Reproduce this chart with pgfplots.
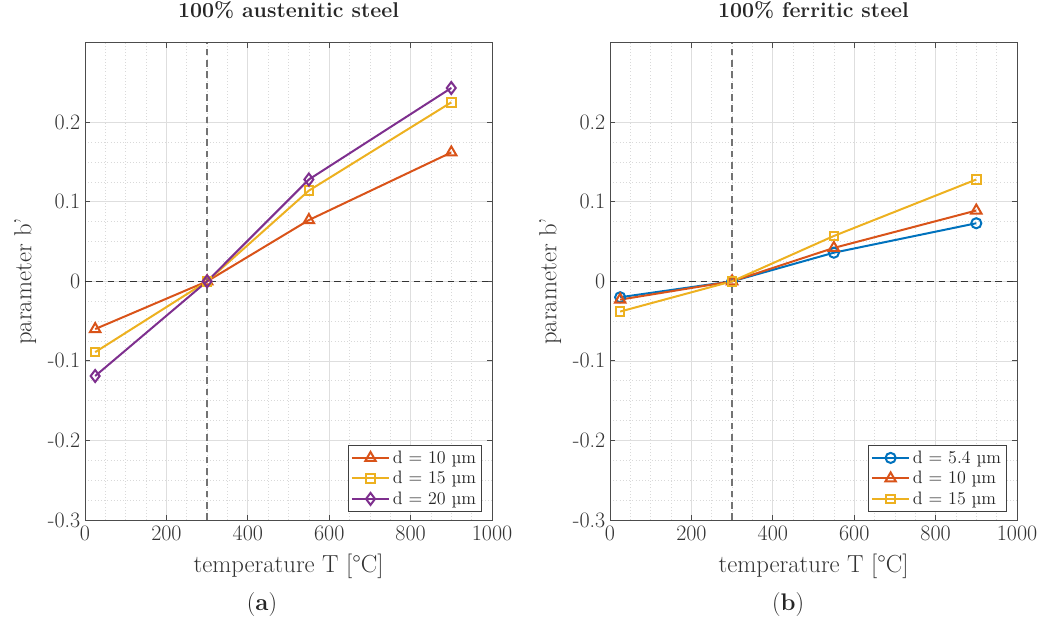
\documentclass[border=0pt]{standalone}
\usepackage{pgfplots}
\pgfplotsset{compat=1.18}
\definecolor{mblue}{rgb}{0,0.447,0.741}
\definecolor{morange}{rgb}{0.85,0.325,0.098}
\definecolor{myellow}{rgb}{0.929,0.694,0.125}
\definecolor{mpurple}{rgb}{0.494,0.184,0.556}
\begin{document}
\begin{tikzpicture}[x=1pt,y=1pt]
\path[use as bounding box] (0,0) rectangle (790.5,468);
\pgfplotsset{
  myaxis/.style={
    scale only axis, width=305.25pt, height=358pt,
    xmin=0, xmax=1000, ymin=-0.3, ymax=0.3,
    xtick={0,200,400,600,800,1000},
    xticklabels={0,200,400,600,800,1000},
    ytick={-0.3,-0.2,-0.1,0,0.1,0.2},
    yticklabels={-0.3,-0.2,-0.1,0,0.1,0.2},
    minor x tick num=3, minor y tick num=3,
    grid=both,
    major grid style={draw=black!13, line width=0.5pt},
    minor grid style={draw=black!15, dotted, line width=0.5pt},
    axis line style={draw=black!70, line width=0.6pt},
    tick align=inside, major tick length=4pt, minor tick length=0pt,
    tick style={draw=black!70, line width=0.6pt},
    ticklabel style={font=\fontsize{16.5}{16.5}\selectfont, text=black!80},
    xticklabel style={yshift=-1pt},
    every axis x label/.style={at={(axis description cs:0.5,-0.098)}, anchor=center, font=\fontsize{18.5}{18.5}\selectfont, text=black!80},
    every axis y label/.style={at={(axis description cs:-0.147,0.5)}, rotate=90, anchor=center, font=\fontsize{18.5}{18.5}\selectfont, text=black!80},
    xlabel={temperature T [°C]},
    ylabel={parameter b'},
    title style={at={(axis description cs:0.5,1.052)}, anchor=center, font=\bfseries\fontsize{16}{16}\selectfont, text=black!85},
    legend style={at={(axis description cs:0.975,0.017)}, anchor=south east, draw=black!75, fill=white, line width=0.6pt,
      font=\fontsize{13.5}{15}\selectfont, text=black!85, row sep=0.5pt, inner sep=2pt},
    legend cell align=left,
    legend image code/.code={\draw[mark repeat=2, mark phase=2] plot coordinates {(0pt,0pt) (14pt,0pt) (28pt,0pt)};},
    every axis plot/.append style={line width=1.5pt},
  },
  ref/.style={forget plot, line width=0.8pt, dash pattern=on 5pt off 3.5pt},
}
\begin{axis}[myaxis, at={(63.75pt,78pt)}, anchor=south west, title={100\% austenitic steel}]
\addplot[ref, draw=black!55, line width=1pt] coordinates {(300,-0.3) (300,0.3)};
\addplot[ref, draw=black!80] coordinates {(0,0) (1000,0)};
\addplot[morange, mark=triangle, mark size=4.5pt, mark options={solid, fill=white}] coordinates {(25,-0.06) (300,0) (550,0.077) (900,0.162)};
\addlegendentry{d = 10 µm}
\addplot[myellow, mark=square, mark size=3.2pt, mark options={solid, fill=white}] coordinates {(25,-0.089) (300,0) (550,0.114) (900,0.225)};
\addlegendentry{d = 15 µm}
\addplot[mpurple, mark=diamond, mark size=4.5pt, mark options={solid, fill=white}] coordinates {(25,-0.119) (300,0) (550,0.128) (900,0.243)};
\addlegendentry{d = 20 µm}
\end{axis}
\begin{axis}[myaxis, at={(457.5pt,78pt)}, anchor=south west, title={100\% ferritic steel}]
\addplot[ref, draw=black!55, line width=1pt] coordinates {(300,-0.3) (300,0.3)};
\addplot[ref, draw=black!80] coordinates {(0,0) (1000,0)};
\addplot[mblue, mark=o, mark size=3.8pt, mark options={solid, fill=white}] coordinates {(25,-0.02) (300,0) (550,0.036) (900,0.073)};
\addlegendentry{d = 5.4 µm}
\addplot[morange, mark=triangle, mark size=4.5pt, mark options={solid, fill=white}] coordinates {(25,-0.023) (300,0) (550,0.042) (900,0.089)};
\addlegendentry{d = 10 µm}
\addplot[myellow, mark=square, mark size=3.2pt, mark options={solid, fill=white}] coordinates {(25,-0.038) (300,0) (550,0.057) (900,0.128)};
\addlegendentry{d = 15 µm}
\end{axis}
\node[font=\fontsize{18}{18}\selectfont, text=black!85] at (196.5,14.25) {(\textbf{a})};
\node[font=\fontsize{18}{18}\selectfont, text=black!85] at (591,14.25) {(\textbf{b})};
\end{tikzpicture}
\end{document}
